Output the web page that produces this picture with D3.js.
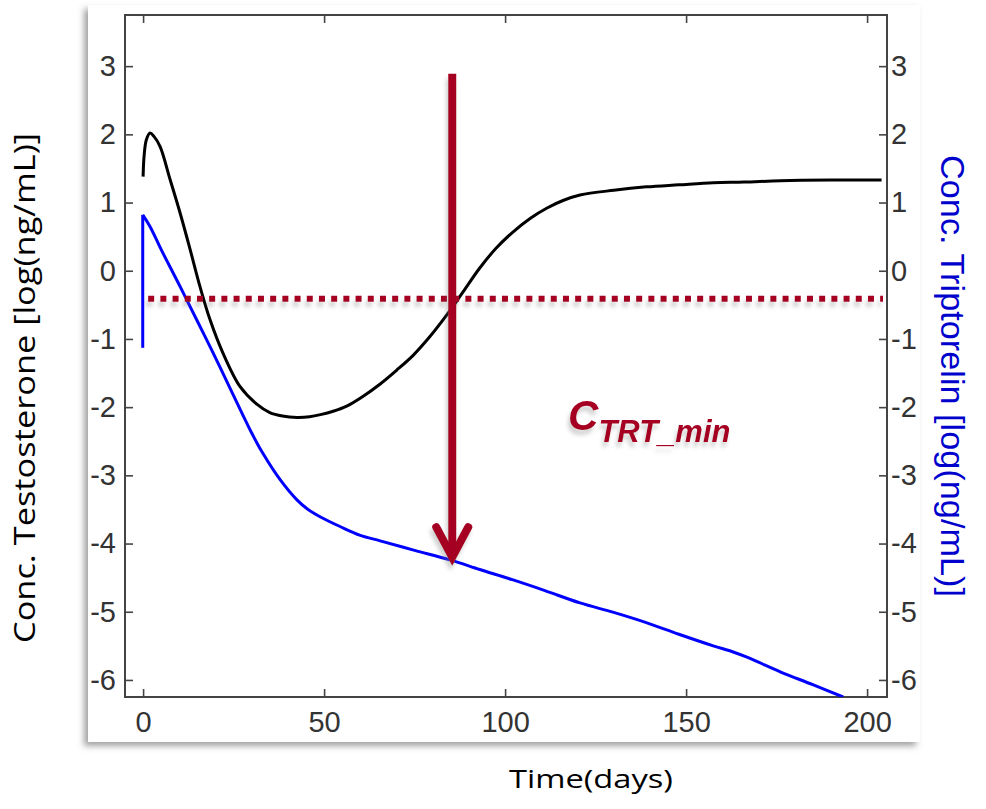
<!DOCTYPE html>
<html>
<head>
<meta charset="utf-8">
<script src="https://cdn.jsdelivr.net/npm/d3@7"></script>
<style>
  body { margin: 0; background: #fff; }
  svg { display: block; }
</style>
</head>
<body>
<div id="chart"></div>
<script>
// testosterone (black, left axis) - log(ng/mL) vs days
var testoDays = [0, 0.3, 0.9, 1.9, 3, 4.7, 7.5, 10.2, 13, 15.7, 18.5, 22, 26.8, 31.5, 35, 38.5, 42.5, 46, 49, 52.5, 56.4, 60.5, 65.5, 70, 74.6, 79, 84, 88, 93, 97.5, 102, 107, 111.6, 116, 120.7, 130, 139, 148, 157.5, 166, 176, 190, 204]
var testoVals = [1.38, 1.7, 1.92, 2.02, 1.97, 1.82, 1.33, 0.85, 0.31, -0.23, -0.72, -1.2, -1.7, -1.96, -2.08, -2.13, -2.15, -2.14, -2.11, -2.06, -1.98, -1.85, -1.66, -1.46, -1.24, -0.98, -0.64, -0.34, 0.04, 0.33, 0.56, 0.77, 0.92, 1.03, 1.11, 1.18, 1.23, 1.26, 1.29, 1.3, 1.32, 1.33, 1.33]

// triptorelin (blue, right axis): injection jump at day 0, then decline
var tripRiseDay = -0.1
var tripRise = [-1.13, 0.82]
var tripDays = [-0.1, 1.9, 5, 10.2, 15, 19.3, 24, 27.6, 30, 33, 37.8, 42.5, 45.3, 49, 54.4, 60, 65.5, 75, 84.8, 93, 102, 111, 120.7, 130, 139, 148, 157.5, 163, 167, 170, 176, 185, 193.4]
var tripVals = [0.82, 0.65, 0.31, -0.23, -0.74, -1.2, -1.72, -2.12, -2.38, -2.67, -3.06, -3.36, -3.49, -3.61, -3.75, -3.88, -3.96, -4.1, -4.24, -4.38, -4.53, -4.69, -4.87, -5.01, -5.16, -5.33, -5.5, -5.59, -5.67, -5.74, -5.88, -6.07, -6.25]

var xTicks = [0, 50, 100, 150, 200]
var yTicks = [3, 2, 1, 0, -1, -2, -3, -4, -5, -6]

// threshold C_TRT_min and arrow
var threshold = {value: -0.41, from: 1.4, to: 204.4}
var arrowDay = 85.4, arrowTop = 2.89, arrowTip = -4.2
var labelAt = {day: 117.4, value: -2.33}

var W = 986, H = 809
var red = '#a50021'

var svg = d3.select('#chart').append('svg')
  .attr('width', W).attr('height', H)

var defs = svg.append('defs')
var panelShadow = defs.append('filter').attr('id', 'panelShadow')
  .attr('x', '-5%').attr('y', '-5%').attr('width', '110%').attr('height', '110%')
panelShadow.append('feDropShadow').attr('dx', -4).attr('dy', 4).attr('stdDeviation', 3)
  .attr('flood-color', '#555').attr('flood-opacity', 0.55)
var lineShadow = defs.append('filter').attr('id', 'lineShadow')
  .attr('filterUnits', 'userSpaceOnUse')
  .attr('x', 0).attr('y', 0).attr('width', W).attr('height', H)
lineShadow.append('feDropShadow').attr('dx', -2).attr('dy', 5).attr('stdDeviation', 2)
  .attr('flood-color', '#777').attr('flood-opacity', 0.35)
defs.append('clipPath').attr('id', 'plotClip').append('rect')
  .attr('x', 125).attr('y', 15).attr('width', 762).attr('height', 682)

// white picture panel
svg.append('rect')
  .attr('x', 88).attr('y', 5).attr('width', 832).attr('height', 737)
  .attr('fill', '#fff')
  .attr('filter', 'url(#panelShadow)')

var x = d3.scaleLinear().domain([-5, 205.5]).range([125, 887])
var y = d3.scaleLinear().domain([-6.25, 3.75]).range([697, 15])

var tickFont = function(g) {
  g.selectAll('text')
    .style('font-family', '"Liberation Sans", Arial, sans-serif')
    .style('font-size', '29px')
    .attr('fill', '#333')
  g.selectAll('line').attr('stroke', '#444').attr('stroke-width', 1.6)
  g.select('.domain').remove()
}
var plain = function(d) { return String(d) }

svg.append('g').attr('transform', 'translate(0,697)')
  .call(d3.axisBottom(x).tickValues(xTicks).tickFormat(plain).tickSize(-8).tickSizeOuter(0).tickPadding(14))
  .call(tickFont)
svg.append('g').attr('transform', 'translate(0,15)')
  .call(d3.axisTop(x).tickValues(xTicks).tickSize(-8).tickSizeOuter(0).tickFormat(''))
  .call(tickFont)
svg.append('g').attr('transform', 'translate(125,0)')
  .call(d3.axisLeft(y).tickValues(yTicks).tickFormat(plain).tickSize(-8).tickSizeOuter(0).tickPadding(9))
  .call(tickFont)
svg.append('g').attr('transform', 'translate(887,0)')
  .call(d3.axisRight(y).tickValues(yTicks).tickFormat(plain).tickSize(-8).tickSizeOuter(0).tickPadding(4))
  .call(tickFont)

// frame
svg.append('rect')
  .attr('x', 125).attr('y', 15).attr('width', 762).attr('height', 682)
  .attr('fill', 'none').attr('stroke', '#444').attr('stroke-width', 2)

var line = d3.line()
  .x(function(d) { return x(d[0]) })
  .y(function(d) { return y(d[1]) })
  .curve(d3.curveCatmullRom.alpha(0.5))

var plot = svg.append('g').attr('clip-path', 'url(#plotClip)')

// triptorelin jump + decline
plot.append('line')
  .attr('x1', x(tripRiseDay)).attr('x2', x(tripRiseDay))
  .attr('y1', y(tripRise[0])).attr('y2', y(tripRise[1]))
  .attr('stroke', '#0000ff').attr('stroke-width', 3)
plot.append('path')
  .datum(d3.zip(tripDays, tripVals))
  .attr('d', line)
  .attr('fill', 'none').attr('stroke', '#0000ff').attr('stroke-width', 3)
  .attr('stroke-linejoin', 'round')

plot.append('path')
  .datum(d3.zip(testoDays, testoVals))
  .attr('d', line)
  .attr('fill', 'none').attr('stroke', '#000').attr('stroke-width', 3)
  .attr('stroke-linejoin', 'round')

// dotted threshold
svg.append('line')
  .attr('x1', x(threshold.from)).attr('x2', x(threshold.to))
  .attr('y1', y(threshold.value)).attr('y2', y(threshold.value))
  .attr('stroke', red).attr('stroke-width', 6)
  .attr('stroke-dasharray', '6,6.2')
  .attr('filter', 'url(#lineShadow)')

// arrow
var arrow = svg.append('g').attr('filter', 'url(#lineShadow)')
arrow.append('line')
  .attr('x1', x(arrowDay)).attr('x2', x(arrowDay))
  .attr('y1', y(arrowTop)).attr('y2', y(arrowTip) - 3)
  .attr('stroke', red).attr('stroke-width', 8)
var tipX = x(arrowDay), tipY = y(arrowTip)
arrow.append('path')
  .attr('d', 'M' + (tipX - 16) + ',' + (tipY - 30) + 'L' + tipX + ',' + tipY + 'L' + (tipX + 16) + ',' + (tipY - 30))
  .attr('fill', 'none').attr('stroke', red).attr('stroke-width', 8)
  .attr('stroke-linecap', 'round').attr('stroke-linejoin', 'miter')

// C_TRT_min label
var lbl = svg.append('text')
  .attr('x', x(labelAt.day)).attr('y', y(labelAt.value))
  .attr('fill', red)
  .style('font-family', '"Liberation Sans", Arial, sans-serif')
  .style('font-weight', 'bold').style('font-style', 'italic')
  .attr('filter', 'url(#lineShadow)')
lbl.append('tspan').style('font-size', '42px').text('C')
lbl.append('tspan').style('font-size', '31px').attr('dy', 12).text('TRT_min')

// axis titles
svg.append('text')
  .attr('transform', 'translate(35,388) rotate(-90)')
  .attr('text-anchor', 'middle')
  .attr('textLength', 510).attr('lengthAdjust', 'spacingAndGlyphs')
  .style('font-family', '"Open Sans", "Noto Sans", sans-serif')
  .style('font-size', '30px')
  .attr('fill', '#000')
  .text('Conc. Testosterone [log(ng/mL)]')

svg.append('text')
  .attr('transform', 'translate(941,376) rotate(90)')
  .attr('text-anchor', 'middle')
  .attr('textLength', 442).attr('lengthAdjust', 'spacingAndGlyphs')
  .style('font-family', '"Liberation Sans", Arial, sans-serif')
  .style('font-size', '34px')
  .attr('fill', '#0000cc')
  .text('Conc. Triptorelin [log(ng/mL)]')

svg.append('text')
  .attr('x', 591).attr('y', 788)
  .attr('text-anchor', 'middle')
  .attr('textLength', 164).attr('lengthAdjust', 'spacingAndGlyphs')
  .style('font-family', '"Open Sans", "Noto Sans", sans-serif')
  .style('font-size', '25px')
  .attr('fill', '#000')
  .text('Time(days)')
</script>
</body>
</html>
